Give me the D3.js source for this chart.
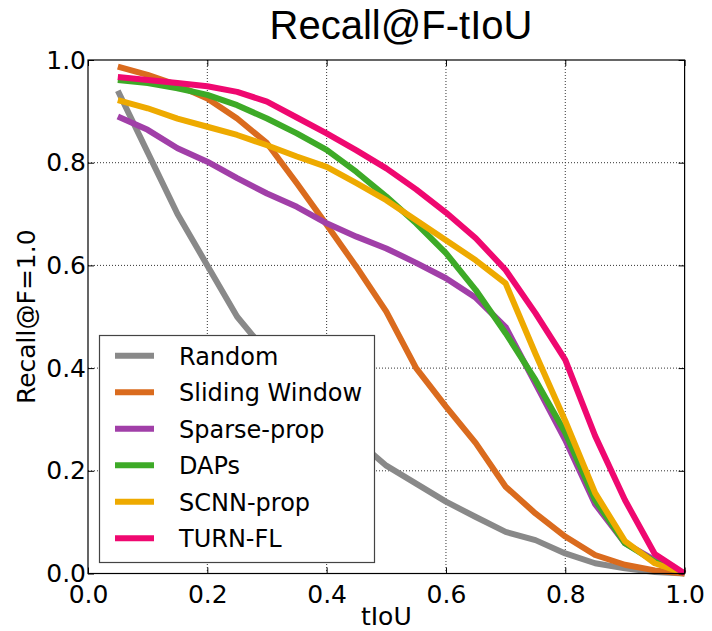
<!DOCTYPE html>
<html>
<head>
<meta charset="utf-8">
<script src="https://cdn.jsdelivr.net/npm/d3@7"></script>
<style>
  body { margin: 0; background: #fff; }
  svg { display: block; }
</style>
</head>
<body>
<div id="chart"></div>
<script>
(function () {

  // tIoU thresholds
  var tiou = [0.05, 0.1, 0.15, 0.2, 0.25, 0.3, 0.35, 0.4, 0.45, 0.5,
              0.55, 0.6, 0.65, 0.7, 0.75, 0.8, 0.85, 0.9, 0.95, 1.0]

  var names = ["Random", "Sliding Window", "Sparse-prop", "DAPs", "SCNN-prop", "TURN-FL"]

  var random_vals = [0.94, 0.82, 0.70, 0.60, 0.50, 0.43, 0.37, 0.31, 0.26, 0.21,
                     0.175, 0.14, 0.11, 0.081, 0.065, 0.039, 0.02, 0.01, 0.003, 0.0]
  var sliding_vals = [0.987, 0.971, 0.951, 0.925, 0.886, 0.838, 0.76, 0.679, 0.597, 0.51,
                      0.40, 0.325, 0.254, 0.169, 0.117, 0.072, 0.036, 0.017, 0.006, 0.0]
  var sparse_vals = [0.89, 0.864, 0.828, 0.802, 0.77, 0.74, 0.714, 0.682, 0.656, 0.633,
                     0.605, 0.575, 0.537, 0.48, 0.37, 0.26, 0.135, 0.059, 0.026, 0.0]
  var daps_vals = [0.961, 0.955, 0.945, 0.932, 0.912, 0.886, 0.857, 0.825, 0.782, 0.734,
                   0.682, 0.624, 0.552, 0.468, 0.377, 0.274, 0.143, 0.059, 0.023, 0.0]
  var scnn_vals = [0.922, 0.906, 0.886, 0.87, 0.854, 0.834, 0.812, 0.792, 0.76, 0.727,
                   0.688, 0.649, 0.61, 0.565, 0.428, 0.297, 0.157, 0.063, 0.02, 0.0]
  var turn_vals = [0.967, 0.961, 0.955, 0.949, 0.938, 0.919, 0.888, 0.857, 0.824, 0.789,
                   0.748, 0.703, 0.653, 0.591, 0.507, 0.416, 0.268, 0.143, 0.038, 0.0]

  var x_ticks = [0.0, 0.2, 0.4, 0.6, 0.8, 1.0]
  var y_ticks = [0.0, 0.2, 0.4, 0.6, 0.8, 1.0]

  var random_color = "#898989"
  var sliding_color = "#DA6B1E"
  var sparse_color = "#A13FA8"
  var daps_color = "#3DAA27"
  var scnn_color = "#EEAA00"
  var turn_color = "#EF0870"

  var series = [
    { name: names[0], vals: random_vals, color: random_color },
    { name: names[1], vals: sliding_vals, color: sliding_color },
    { name: names[2], vals: sparse_vals, color: sparse_color },
    { name: names[3], vals: daps_vals, color: daps_color },
    { name: names[4], vals: scnn_vals, color: scnn_color },
    { name: names[5], vals: turn_vals, color: turn_color }
  ]

  var width = 712
  var height = 631
  var left = 88, right = 684.6, top = 60, bottom = 573.5
  var tickFont = "'DejaVu Sans', sans-serif"

  var svg = d3.select("#chart").append("svg")
    .attr("width", width)
    .attr("height", height)

  var x = d3.scaleLinear().domain([0, 1]).range([left, right])
  var y = d3.scaleLinear().domain([0, 1]).range([bottom, top])

  // dotted grid
  var grid = svg.append("g")
  grid.selectAll(".gx")
    .data(x_ticks.slice(1, -1))
    .enter().append("line")
      .attr("x1", function (d) { return x(d) })
      .attr("x2", function (d) { return x(d) })
      .attr("y1", top)
      .attr("y2", bottom)
      .attr("stroke", "#333")
      .attr("stroke-width", 1)
      .attr("stroke-dasharray", "1,2")
  grid.selectAll(".gy")
    .data(y_ticks.slice(1, -1))
    .enter().append("line")
      .attr("y1", function (d) { return y(d) })
      .attr("y2", function (d) { return y(d) })
      .attr("x1", left)
      .attr("x2", right)
      .attr("stroke", "#333")
      .attr("stroke-width", 1)
      .attr("stroke-dasharray", "1,2")

  // curves
  var line = d3.line()
    .x(function (d, i) { return x(tiou[i]) })
    .y(function (d) { return y(d) })

  svg.append("g").selectAll("path")
    .data(series)
    .enter().append("path")
      .attr("d", function (s) { return line(s.vals) })
      .attr("fill", "none")
      .attr("stroke", function (s) { return s.color })
      .attr("stroke-width", 6)
      .attr("stroke-linejoin", "round")

  // axes with inward ticks
  var xAxisB = d3.axisBottom(x).tickValues(x_ticks).tickFormat(d3.format(".1f")).tickSizeInner(-6).tickSizeOuter(0).tickPadding(12)
  var xAxisT = d3.axisTop(x).tickValues(x_ticks).tickFormat("").tickSizeInner(-6).tickSizeOuter(0)
  var yAxisL = d3.axisLeft(y).tickValues(y_ticks).tickFormat(d3.format(".1f")).tickSizeInner(-6).tickSizeOuter(0).tickPadding(2)
  var yAxisR = d3.axisRight(y).tickValues(y_ticks).tickFormat("").tickSizeInner(-6).tickSizeOuter(0)

  function styleAxis(g) {
    g.select(".domain").remove()
    g.selectAll("line").attr("stroke", "#000")
    g.selectAll("text")
      .attr("font-family", tickFont)
      .attr("font-size", 25)
      .attr("fill", "#000")
  }

  svg.append("g").attr("transform", "translate(0," + bottom + ")").call(xAxisB).call(styleAxis)
  svg.append("g").attr("transform", "translate(0," + top + ")").call(xAxisT).call(styleAxis)
  svg.append("g").attr("transform", "translate(" + left + ",0)").call(yAxisL).call(styleAxis)
  svg.append("g").attr("transform", "translate(" + right + ",0)").call(yAxisR).call(styleAxis)

  // frame
  svg.append("rect")
    .attr("x", left)
    .attr("y", top)
    .attr("width", right - left)
    .attr("height", bottom - top)
    .attr("fill", "none")
    .attr("stroke", "#000")
    .attr("stroke-width", 1.2)

  // legend
  var legend = svg.append("g")
  legend.append("rect")
    .attr("x", 99.5)
    .attr("y", 335.5)
    .attr("width", 275)
    .attr("height", 227)
    .attr("fill", "#fff")
    .attr("stroke", "#444")
    .attr("stroke-width", 1.2)

  var rows = legend.selectAll(".row")
    .data(series)
    .enter().append("g")
      .attr("transform", function (d, i) { return "translate(0," + (355.7 + i * 36.5) + ")" })
  rows.append("line")
    .attr("x1", 115)
    .attr("x2", 154)
    .attr("stroke", function (d) { return d.color })
    .attr("stroke-width", 6)
  rows.append("text")
    .attr("x", 179)
    .attr("y", 9)
    .attr("font-family", tickFont)
    .attr("font-size", 24)
    .text(function (d) { return d.name })

  // titles
  svg.append("text")
    .attr("x", 401)
    .attr("y", 39)
    .attr("text-anchor", "middle")
    .attr("font-family", "'Liberation Sans', Arial, sans-serif")
    .attr("font-size", 40)
    .text("Recall@F-tIoU")

  svg.append("text")
    .attr("x", (left + right) / 2)
    .attr("y", 625)
    .attr("text-anchor", "middle")
    .attr("font-family", tickFont)
    .attr("font-size", 25)
    .text("tIoU")

  svg.append("text")
    .attr("transform", "translate(35," + ((top + bottom) / 2) + ") rotate(-90)")
    .attr("text-anchor", "middle")
    .attr("font-family", tickFont)
    .attr("font-size", 25)
    .text("Recall@F=1.0")

})();
</script>
</body>
</html>
